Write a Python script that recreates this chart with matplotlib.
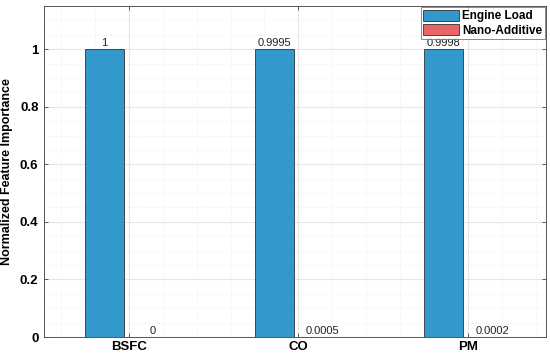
import matplotlib
matplotlib.use("Agg")
import matplotlib.pyplot as plt
import numpy as np
from matplotlib.ticker import MultipleLocator, FixedLocator

categories = ["BSFC", "CO", "PM"]
engine_load = [1.0, 0.9995, 0.9998]
nano_additive = [0.0, 0.0005, 0.0002]
engine_labels = ["1", "0.9995", "0.9998"]
nano_labels = ["0", "0.0005", "0.0002"]
series_names = ["Engine Load", "Nano-Additive"]

plt.rcParams['font.family'] = ['Liberation Sans', 'DejaVu Sans']

fig = plt.figure(figsize=(5.5, 3.57), dpi=100)
ax = fig.add_axes([44/550, 1 - 337/357, 502/550, 331/357])

x = np.arange(1, len(categories) + 1)
gw = 2 / 3.5
bw = gw / 2 * 0.8
off = gw / 4
b1 = ax.bar(x - off, engine_load, bw, color="#3399CC", edgecolor="#333333", linewidth=0.6, label=series_names[0], zorder=3)
b2 = ax.bar(x + off, nano_additive, bw, color="#E86666", edgecolor="#333333", linewidth=0.6, label=series_names[1], zorder=3)

for rect, lab in zip(b1, engine_labels):
    ax.text(rect.get_x() + rect.get_width()/2, rect.get_height() + 0.004, lab,
            ha="center", va="bottom", fontsize=8, color="#222222")
for rect, lab in zip(b2, nano_labels):
    ax.text(rect.get_x() + rect.get_width()/2, rect.get_height() + 0.004, lab,
            ha="center", va="bottom", fontsize=8, color="#222222")

ax.set_xlim(0.5, 3.46)
ax.set_ylim(0, 1.15)
ax.set_xticks(x)
ax.set_xticklabels(categories, fontweight="bold", fontsize=9.5)
ax.set_yticks([0, 0.2, 0.4, 0.6, 0.8, 1.0])
ax.set_yticklabels(["0", "0.2", "0.4", "0.6", "0.8", "1"], fontweight="bold", fontsize=9.5)
ax.yaxis.set_minor_locator(MultipleLocator(0.05))
ax.xaxis.set_minor_locator(FixedLocator(np.arange(0.6, 3.5, 0.2)))
ax.tick_params(which="both", direction="in", top=True, right=True, length=3, width=0.6, color="#444444")
ax.tick_params(which="minor", length=0)
ax.tick_params(axis="x", which="major", pad=3)
ax.tick_params(axis="y", which="major", pad=4)
ax.grid(True, which="major", color="#e6e6e6", linewidth=0.8, zorder=0)
ax.grid(True, which="minor", color="#ececec", linewidth=0.6, linestyle=":", zorder=0)
ax.set_axisbelow(True)
for s in ax.spines.values():
    s.set_color("#555555")
    s.set_linewidth(0.7)

ax.set_ylabel("Normalized Feature Importance", fontweight="bold", fontsize=9, labelpad=5)

leg = ax.legend(loc="upper right", prop={"weight": "bold", "size": 8.5},
                frameon=True, fancybox=False, edgecolor="#555555", borderaxespad=0.1,
                handlelength=3.0, handleheight=1.1, handletextpad=0.3, labelspacing=0.15,
                borderpad=0.2)
leg.get_frame().set_linewidth(0.6)

fig.savefig("out.png", dpi=100)
